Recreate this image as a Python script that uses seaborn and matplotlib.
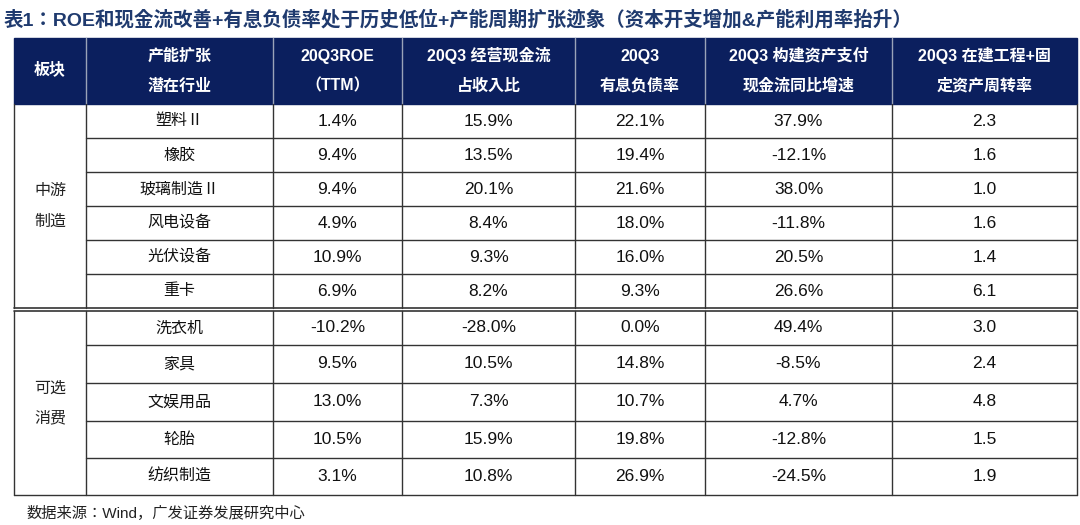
import glob
import matplotlib.pyplot as plt
import matplotlib.font_manager as fm
import seaborn as sns
from matplotlib.patches import Rectangle

sns.set_theme(style="white")

title = "表1：ROE和现金流改善+有息负债率处于历史低位+产能周期扩张迹象（资本开支增加&产能利用率抬升）"
source = "数据来源：Wind，广发证券发展研究中心"

headers = ["板块", "产能扩张\n潜在行业", "20Q3ROE\n（TTM）", "20Q3 经营现金流\n占收入比",
           "20Q3\n有息负债率", "20Q3 构建资产支付\n现金流同比增速", "20Q3 在建工程+固\n定资产周转率"]
sectors = ["中游\n制造", "可选\n消费"]
industries = [["塑料Ⅱ", "橡胶", "玻璃制造Ⅱ", "风电设备", "光伏设备", "重卡"],
              ["洗衣机", "家具", "文娱用品", "轮胎", "纺织制造"]]
roe = [["1.4%", "9.4%", "9.4%", "4.9%", "10.9%", "6.9%"],
       ["-10.2%", "9.5%", "13.0%", "10.5%", "3.1%"]]
cash_ratio = [["15.9%", "13.5%", "20.1%", "8.4%", "9.3%", "8.2%"],
              ["-28.0%", "10.5%", "7.3%", "15.9%", "10.8%"]]
debt_ratio = [["22.1%", "19.4%", "21.6%", "18.0%", "16.0%", "9.3%"],
              ["0.0%", "14.8%", "10.7%", "19.8%", "26.9%"]]
capex_yoy = [["37.9%", "-12.1%", "38.0%", "-11.8%", "20.5%", "26.6%"],
             ["49.4%", "-8.5%", "4.7%", "-12.8%", "-24.5%"]]
turnover = [["2.3", "1.6", "1.0", "1.6", "1.4", "6.1"],
            ["3.0", "2.4", "4.8", "1.5", "1.9"]]

# locate a CJK font
for f in glob.glob("/usr/share/fonts/**/*CJK*", recursive=True):
    try:
        fm.fontManager.addfont(f)
    except Exception:
        pass
names = sorted({f.name for f in fm.fontManager.ttflist if "CJK" in f.name})
cjk_name = next((n for n in names if n.endswith("SC")), names[0] if names else "Noto Sans CJK SC")

NAVY = "#0b1f5e"
CJK = [cjk_name]
MIX = ["Liberation Sans", cjk_name]

xs = [14, 86, 273, 402, 575, 705, 892, 1077]
top, hdr_bot = 38, 104
group_rows = [[104, 138, 172, 206, 240, 274, 308], [311, 345, 383, 421, 458, 495]]

fig = plt.figure(figsize=(10.8, 5.25), dpi=100)
ax = fig.add_axes([0, 0, 1, 1])
ax.set_xlim(0, 1080)
ax.set_ylim(525, 0)
ax.axis("off")

ax.text(4, 20, title, fontsize=14, fontweight="bold", color="#1f3a6e",
        family=MIX, va="center", ha="left")

# header
ax.add_patch(Rectangle((xs[0], top), xs[-1] - xs[0], hdr_bot - top, color=NAVY, zorder=1))
for x in xs[1:-1]:
    ax.plot([x, x], [top, hdr_bot], color="#9aa3b8", lw=1, zorder=2)
for i, h in enumerate(headers):
    cx = (xs[i] + xs[i + 1]) / 2
    lines = h.split("\n")
    ys = [top + 18, top + 48] if len(lines) == 2 else [top + 33]
    if i == 0:
        ys = [top + 31]
    for ln, y in zip(lines, ys):
        ax.text(cx, y, ln, color="white", fontsize=11.5, fontweight="bold",
                family=MIX, ha="center", va="center", zorder=3)

cols = [industries, roe, cash_ratio, debt_ratio, capex_yoy, turnover]
for g, rows in enumerate(group_rows):
    n = len(rows) - 1
    ax.text((xs[0] + xs[1]) / 2, (rows[0] + rows[-1]) / 2, sectors[g], fontsize=11.5,
            family=CJK, ha="center", va="center", linespacing=2.0, color="#222222")
    for r in range(n):
        cy = (rows[r] + rows[r + 1]) / 2
        for c, col in enumerate(cols):
            cx = (xs[c + 1] + xs[c + 2]) / 2
            fam = CJK if c == 0 else MIX
            fs = 11.5 if c == 0 else 12.5
            ax.text(cx, cy, col[g][r], fontsize=fs, family=fam, ha="center",
                    va="center", color="#111111")
        if r < n - 1:
            ax.plot([xs[1], xs[-1]], [rows[r + 1]] * 2, color="#333333", lw=1)
    for x in xs:
        ax.plot([x, x], [rows[0], rows[-1]], color="#333333", lw=1)

ax.plot([xs[0], xs[-1]], [308, 308], color="#333333", lw=1.2)
ax.plot([xs[0], xs[-1]], [311, 311], color="#333333", lw=1.2)
ax.plot([xs[0], xs[-1]], [495, 495], color="#333333", lw=1)

ax.text(26, 513, source, fontsize=11, family=MIX, ha="left", va="center", color="#222222")

fig.savefig("out.png", dpi=100)
